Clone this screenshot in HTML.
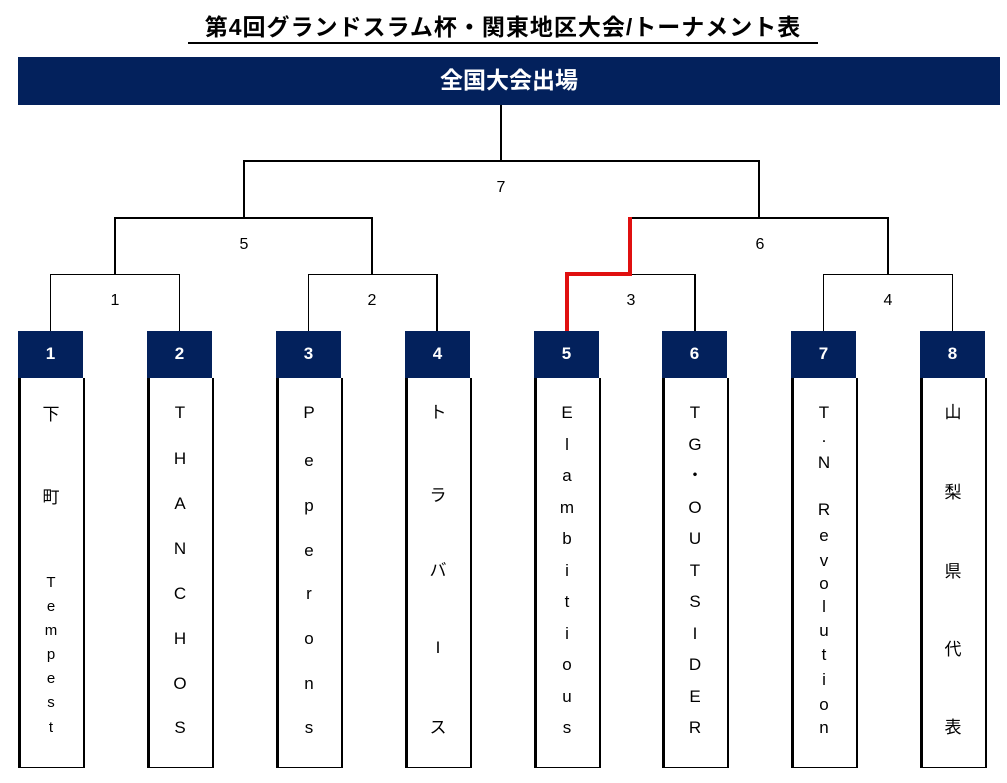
<!DOCTYPE html>
<html><head><meta charset="utf-8"><style>
body{margin:0;width:1007px;height:783px;background:#fff;position:relative;overflow:hidden;font-family:"Liberation Sans","Noto Sans CJK JP",sans-serif}
.a{position:absolute}
.l{position:absolute;background:#000}
.h{position:absolute;background:#03215c;color:#fff;font-weight:bold;text-align:center}
.b{position:absolute;top:378px;height:389px;width:62px;border-left:3px solid #000;border-right:2px solid #000;border-bottom:1px solid #000;background:#fff}
.c{position:absolute;width:40px;margin-left:-20px;text-align:center;font-size:17px;line-height:20px;color:#000}
.n{position:absolute;width:40px;margin-left:-20px;text-align:center;font-size:16px;line-height:20px}
</style></head><body>
<div class="a" style="left:188px;top:12px;width:630px;text-align:center;font-size:23px;font-weight:bold;line-height:30px;border-bottom:2px solid #000;white-space:nowrap;letter-spacing:1px">第4回グランドスラム杯・関東地区大会/トーナメント表</div>
<div class="h" style="left:18px;top:57px;width:982px;height:48px;line-height:46px;font-size:23px">全国大会出場</div>

<div class="l" style="left:500px;top:105px;width:2px;height:57px"></div>
<div class="l" style="left:243px;top:160px;width:517px;height:2px"></div>
<div class="l" style="left:243px;top:160px;width:2px;height:58px"></div>
<div class="l" style="left:758px;top:160px;width:2px;height:58px"></div>
<div class="l" style="left:114px;top:217px;width:259px;height:2px"></div>
<div class="l" style="left:114px;top:217px;width:2px;height:58px"></div>
<div class="l" style="left:371px;top:217px;width:2px;height:58px"></div>
<div class="l" style="left:629px;top:217px;width:260px;height:2px"></div>
<div class="l" style="left:887px;top:217px;width:2px;height:58px"></div>
<div class="l" style="left:50px;top:274px;width:130px;height:1px"></div>
<div class="l" style="left:50px;top:274px;width:1px;height:57px"></div>
<div class="l" style="left:179px;top:274px;width:1px;height:57px"></div>
<div class="l" style="left:308px;top:274px;width:130px;height:1px"></div>
<div class="l" style="left:308px;top:274px;width:1px;height:57px"></div>
<div class="l" style="left:436px;top:274px;width:2px;height:57px"></div>
<div class="l" style="left:630px;top:274px;width:66px;height:1px"></div>
<div class="l" style="left:694px;top:274px;width:2px;height:57px"></div>
<div class="l" style="left:823px;top:274px;width:130px;height:1px"></div>
<div class="l" style="left:823px;top:274px;width:1px;height:57px"></div>
<div class="l" style="left:952px;top:274px;width:1px;height:57px"></div>
<div class="a" style="left:628px;top:217px;width:4px;height:59px;background:#e01010"></div>
<div class="a" style="left:565px;top:272px;width:67px;height:4px;background:#e01010"></div>
<div class="a" style="left:565px;top:272px;width:4px;height:59px;background:#e01010"></div>

<div class="n" style="left:115px;top:291px">1</div>
<div class="n" style="left:372px;top:291px">2</div>
<div class="n" style="left:631px;top:291px">3</div>
<div class="n" style="left:888px;top:291px">4</div>
<div class="n" style="left:244px;top:235px">5</div>
<div class="n" style="left:760px;top:235px">6</div>
<div class="n" style="left:501px;top:178px">7</div>

<div class="h" style="left:18px;top:331px;width:65px;height:47px;line-height:45px;font-size:17px">1</div>
<div class="h" style="left:147px;top:331px;width:65px;height:47px;line-height:45px;font-size:17px">2</div>
<div class="h" style="left:276px;top:331px;width:65px;height:47px;line-height:45px;font-size:17px">3</div>
<div class="h" style="left:405px;top:331px;width:65px;height:47px;line-height:45px;font-size:17px">4</div>
<div class="h" style="left:534px;top:331px;width:65px;height:47px;line-height:45px;font-size:17px">5</div>
<div class="h" style="left:662px;top:331px;width:65px;height:47px;line-height:45px;font-size:17px">6</div>
<div class="h" style="left:791px;top:331px;width:65px;height:47px;line-height:45px;font-size:17px">7</div>
<div class="h" style="left:920px;top:331px;width:65px;height:47px;line-height:45px;font-size:17px">8</div>
<div class="b" style="left:18px"></div>
<div class="b" style="left:147px"></div>
<div class="b" style="left:276px"></div>
<div class="b" style="left:405px"></div>
<div class="b" style="left:534px"></div>
<div class="b" style="left:662px"></div>
<div class="b" style="left:791px"></div>
<div class="b" style="left:920px"></div>

<div class="c" style="left:51px;top:405px">下</div>
<div class="c" style="left:51px;top:488px">町</div>
<div class="c" style="left:51px;top:573px;font-size:15px">T</div>
<div class="c" style="left:51px;top:597px;font-size:15px">e</div>
<div class="c" style="left:51px;top:621px;font-size:15px">m</div>
<div class="c" style="left:51px;top:645px;font-size:15px">p</div>
<div class="c" style="left:51px;top:669px;font-size:15px">e</div>
<div class="c" style="left:51px;top:693px;font-size:15px">s</div>
<div class="c" style="left:51px;top:718px;font-size:15px">t</div>

<div class="c" style="left:180px;top:403px">T</div>
<div class="c" style="left:180px;top:449px">H</div>
<div class="c" style="left:180px;top:494px">A</div>
<div class="c" style="left:180px;top:539px">N</div>
<div class="c" style="left:180px;top:584px">C</div>
<div class="c" style="left:180px;top:629px">H</div>
<div class="c" style="left:180px;top:674px">O</div>
<div class="c" style="left:180px;top:718px">S</div>

<div class="c" style="left:309px;top:403px">P</div>
<div class="c" style="left:309px;top:451px">e</div>
<div class="c" style="left:309px;top:496px">p</div>
<div class="c" style="left:309px;top:541px">e</div>
<div class="c" style="left:309px;top:584px">r</div>
<div class="c" style="left:309px;top:629px">o</div>
<div class="c" style="left:309px;top:674px">n</div>
<div class="c" style="left:309px;top:718px">s</div>

<div class="c" style="left:438px;top:403px">ト</div>
<div class="c" style="left:438px;top:486px">ラ</div>
<div class="c" style="left:438px;top:561px">バ</div>
<div class="c" style="left:438px;top:638px">I</div>
<div class="c" style="left:438px;top:718px">ス</div>

<div class="c" style="left:567px;top:403px">E</div>
<div class="c" style="left:567px;top:435px">l</div>
<div class="c" style="left:567px;top:466px">a</div>
<div class="c" style="left:567px;top:498px">m</div>
<div class="c" style="left:567px;top:529px">b</div>
<div class="c" style="left:567px;top:561px">i</div>
<div class="c" style="left:567px;top:592px">t</div>
<div class="c" style="left:567px;top:624px">i</div>
<div class="c" style="left:567px;top:655px">o</div>
<div class="c" style="left:567px;top:687px">u</div>
<div class="c" style="left:567px;top:718px">s</div>

<div class="c" style="left:695px;top:403px">T</div>
<div class="c" style="left:695px;top:435px">G</div>
<div class="c" style="left:695px;top:466px">・</div>
<div class="c" style="left:695px;top:498px">O</div>
<div class="c" style="left:695px;top:529px">U</div>
<div class="c" style="left:695px;top:561px">T</div>
<div class="c" style="left:695px;top:592px">S</div>
<div class="c" style="left:695px;top:624px">I</div>
<div class="c" style="left:695px;top:655px">D</div>
<div class="c" style="left:695px;top:687px">E</div>
<div class="c" style="left:695px;top:718px">R</div>

<div class="c" style="left:824px;top:403px">T</div>
<div class="c" style="left:824px;top:427px">.</div>
<div class="c" style="left:824px;top:453px">N</div>
<div class="c" style="left:824px;top:500px">R</div>
<div class="c" style="left:824px;top:526px">e</div>
<div class="c" style="left:824px;top:551px">v</div>
<div class="c" style="left:824px;top:574px">o</div>
<div class="c" style="left:824px;top:597px">l</div>
<div class="c" style="left:824px;top:621px">u</div>
<div class="c" style="left:824px;top:645px">t</div>
<div class="c" style="left:824px;top:670px">i</div>
<div class="c" style="left:824px;top:695px">o</div>
<div class="c" style="left:824px;top:718px">n</div>

<div class="c" style="left:953px;top:403px">山</div>
<div class="c" style="left:953px;top:483px">梨</div>
<div class="c" style="left:953px;top:562px">県</div>
<div class="c" style="left:953px;top:640px">代</div>
<div class="c" style="left:953px;top:718px">表</div>
</body></html>
